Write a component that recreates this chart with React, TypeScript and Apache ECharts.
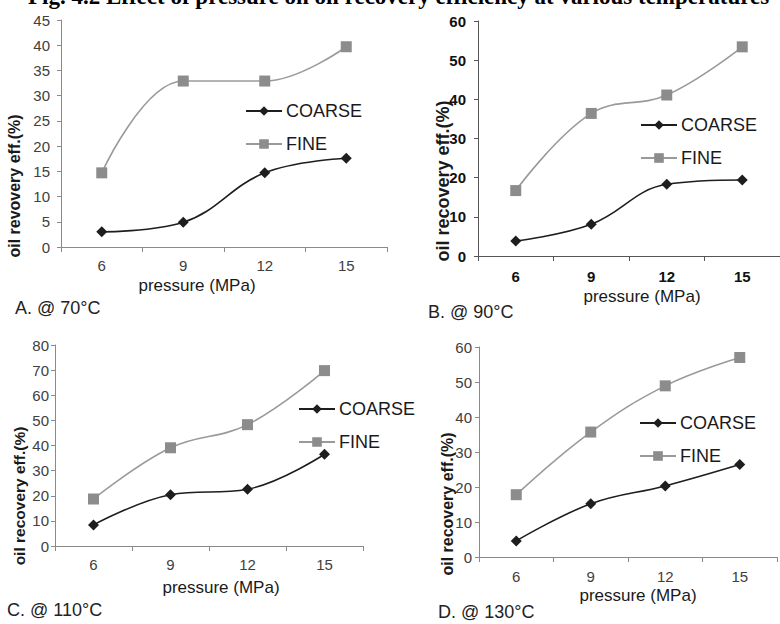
import React, { useEffect, useRef } from 'react';
import * as echarts from 'echarts';

// ---- data ----
const categories = ['6', '9', '12', '15'];
const seriesNames = ['COARSE', 'FINE'];

const coarseA = [3.0, 4.9, 14.7, 17.6];
const fineA = [14.7, 32.9, 32.9, 39.7];
const coarseB = [3.8, 8.1, 18.3, 19.4];
const fineB = [16.7, 36.4, 41.1, 53.4];
const coarseC = [8.4, 20.4, 22.6, 36.5];
const fineC = [18.7, 39.1, 48.3, 69.8];
const coarseD = [4.6, 15.2, 20.3, 26.4];
const fineD = [17.8, 35.7, 48.9, 57.0];

const yMaxes = [45, 60, 80, 60];
const yIntervals = [5, 10, 10, 10];

const panelLabels = ['A. @ 70°C', 'B. @ 90°C', 'C. @ 110°C', 'D. @ 130°C'];
const yNames = ['oil revovery eff.(%)', 'oil recovery eff.(%)', 'oil recovery eff.(%)', 'oil recovery eff.(%)'];
const xName = 'pressure (MPa)';
const titleText = 'Fig. 4.2 Effect of pressure on oil recovery efficiency at various temperatures';

const FONT = '"Liberation Sans", Arial, sans-serif';

export default function App() {
  const ref = useRef<HTMLDivElement>(null);

  useEffect(() => {
    const chart = echarts.init(ref.current!, null, { renderer: 'svg' });
    const coarse = [coarseA, coarseB, coarseC, coarseD];
    const fine = [fineA, fineB, fineC, fineD];

    // layout (positions only)
    const layout = [
      { grid: { left: 61, top: 20, width: 326, height: 227 }, legend: { left: 240, top: 97 }, yLab: 11, xLab: 11, axisColor: '#8a8a8a', tickColor: '#404040', bold: false,
        xNamePos: [197, 285], yNamePos: [14, 186], yNameSize: 16, labelPos: [15, 308] },
      { grid: { left: 478, top: 21, width: 305, height: 235 }, legend: { left: 635, top: 111 }, yLab: 12, xLab: 13, axisColor: '#555555', tickColor: '#111111', bold: true,
        xNamePos: [642, 296], yNamePos: [443, 181], yNameSize: 18, labelPos: [428, 312] },
      { grid: { left: 55, top: 345, width: 308, height: 201 }, legend: { left: 293, top: 395 }, yLab: 6, xLab: 11, axisColor: '#8a8a8a', tickColor: '#404040', bold: false,
        xNamePos: [221, 587], yNamePos: [19, 496], yNameSize: 15.5, labelPos: [7, 610] },
      { grid: { left: 479, top: 347, width: 298, height: 210 }, legend: { left: 634, top: 409 }, yLab: 7, xLab: 12, axisColor: '#8a8a8a', tickColor: '#404040', bold: false,
        xNamePos: [638, 595], yNamePos: [447, 504], yNameSize: 16, labelPos: [438, 612] },
    ];

    const grid = layout.map((l) => ({ ...l.grid, containLabel: false }));
    const xAxis = layout.map((l, i) => ({
      type: 'category',
      gridIndex: i,
      data: categories,
      boundaryGap: true,
      axisLine: { show: true, lineStyle: { color: l.axisColor, width: 1 } },
      axisTick: { show: true, length: 5, lineStyle: { color: l.axisColor } },
      axisLabel: { margin: l.xLab, fontSize: 15, fontFamily: FONT, color: l.tickColor, fontWeight: l.bold ? 'bold' : 'normal' },
      splitLine: { show: false },
    }));
    const yAxis = layout.map((l, i) => ({
      type: 'value',
      gridIndex: i,
      min: 0,
      max: yMaxes[i],
      interval: yIntervals[i],
      axisLine: { show: true, lineStyle: { color: l.axisColor, width: 1 } },
      axisTick: { show: true, length: 4, lineStyle: { color: l.axisColor } },
      axisLabel: { margin: l.yLab, fontSize: 15, fontFamily: FONT, color: l.tickColor, fontWeight: l.bold ? 'bold' : 'normal' },
      splitLine: { show: false },
    }));

    const series: any[] = [];
    for (let i = 0; i < 4; i++) {
      series.push({
        name: seriesNames[0],
        type: 'line',
        xAxisIndex: i,
        yAxisIndex: i,
        data: coarse[i],
        smooth: 0.4,
        symbol: 'diamond',
        symbolSize: 11,
        lineStyle: { color: '#1e1e1e', width: 1.6 },
        itemStyle: { color: '#1e1e1e' },
      });
      series.push({
        name: seriesNames[1],
        type: 'line',
        xAxisIndex: i,
        yAxisIndex: i,
        data: fine[i],
        smooth: 0.4,
        symbol: 'rect',
        symbolSize: 11,
        lineStyle: { color: '#9a9a9a', width: 1.6 },
        itemStyle: { color: '#8c8c8c' },
      });
    }

    const legend = layout.map((l) => ({
      data: seriesNames,
      orient: 'vertical',
      left: l.legend.left,
      top: l.legend.top,
      itemWidth: 36,
      itemHeight: 12,
      itemGap: 15,
      selectedMode: false,
      textStyle: { fontSize: 18, fontFamily: FONT, color: '#1a1a1a', lineHeight: 18, padding: [0, 0, 0, -1] },
    }));

    const graphic: any[] = [
      {
        type: 'text',
        x: 28,
        y: 8,
        style: { text: titleText, font: 'bold 23px "Liberation Serif", "Times New Roman", serif', fill: '#000', verticalAlign: 'bottom' },
      },
    ];
    layout.forEach((l, i) => {
      graphic.push({
        type: 'text',
        x: l.xNamePos[0],
        y: l.xNamePos[1],
        style: { text: xName, font: `17px ${FONT}`, fill: '#1a1a1a', align: 'center', verticalAlign: 'middle' },
      });
      graphic.push({
        type: 'text',
        x: l.yNamePos[0],
        y: l.yNamePos[1],
        rotation: Math.PI / 2,
        style: { text: yNames[i], font: `bold ${l.yNameSize}px ${FONT}`, fill: '#1a1a1a', align: 'center', verticalAlign: 'middle' },
      });
      graphic.push({
        type: 'text',
        x: l.labelPos[0],
        y: l.labelPos[1],
        style: { text: panelLabels[i], font: `18px ${FONT}`, fill: '#222', align: 'left', verticalAlign: 'middle' },
      });
    });

    chart.setOption({
      animation: false,
      backgroundColor: '#ffffff',
      grid,
      xAxis,
      yAxis,
      legend,
      series,
      graphic,
    });
    return () => chart.dispose();
  }, []);

  return (
    <div
      ref={ref}
      style={{ position: 'absolute', left: 0, top: 0, width: 780, height: 624, background: '#fff' }}
    />
  );
}
